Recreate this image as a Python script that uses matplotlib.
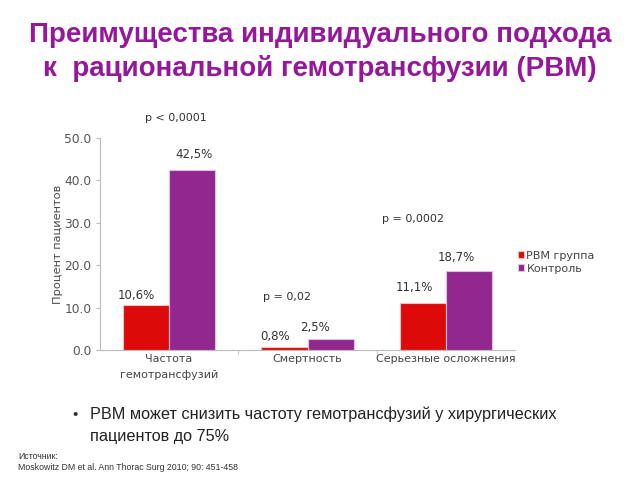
import matplotlib
matplotlib.use("Agg")
import matplotlib.pyplot as plt
import numpy as np

categories = ["Частота\nгемотрансфузий", "Смертность", "Серьезные осложнения"]
pbm_values = [10.6, 0.8, 11.1]
control_values = [42.5, 2.5, 18.7]
pbm_labels = ["10,6%", "0,8%", "11,1%"]
control_labels = ["42,5%", "2,5%", "18,7%"]
p_values = ["p < 0,0001", "p = 0,02", "p = 0,0002"]
series_names = ["PBM группа", "Контроль"]
yticks = [0, 10, 20, 30, 40, 50]

plt.rcParams['font.family'] = ['Liberation Sans', 'DejaVu Sans']
fig = plt.figure(figsize=(6.4, 4.8), dpi=100)
fig.patch.set_facecolor("white")

red = "#DD0A0A"
purple = "#92278F"
title_col = "#96189A"

ax = fig.add_axes([0.156, 0.271, 0.649, 0.4415])
x = np.arange(len(categories))
w = 1/3
ax.bar(x - w/2, pbm_values, w, color=red, edgecolor="#F5C0C0", linewidth=0.8, label=series_names[0])
ax.bar(x + w/2, control_values, w, color=purple, edgecolor="#E0C0E0", linewidth=0.8, label=series_names[1])

ax.set_xlim(-0.5, len(categories) - 0.5)
ax.set_ylim(0, 50)
ax.set_yticks(yticks)
ax.set_yticklabels([f"{v:.1f}" for v in yticks], fontsize=8.8, color="#555555", family=['DejaVu Sans'])
ax.set_xticks(x)
ax.set_xticklabels(categories, fontsize=8, color="#444444", family=['DejaVu Sans'], linespacing=1.75)
ax.set_xticks(np.arange(len(categories) - 1) + 0.5, minor=True)
ax.tick_params(axis='x', which='major', length=0, pad=3)
ax.tick_params(axis='x', which='minor', length=3, color="#BBBBBB")
ax.tick_params(axis='y', length=3, color="#BBBBBB", pad=3)
for s in ["top", "right"]:
    ax.spines[s].set_visible(False)
for s in ["left", "bottom"]:
    ax.spines[s].set_color("#BBBBBB")
ax.set_ylabel("Процент пациентов", fontsize=8.2, color="#4a4a4a", family=['DejaVu Sans'], labelpad=1)

lab_kw = dict(fontsize=8.5, color="#333333", family=['DejaVu Sans'], ha="center", va="bottom")
red_off = [(-7, 2), (-7, 2.5), (-6, 6.5)]
pur_off = [(1, 6), (-11, 4), (-9, 5)]
for i in range(len(categories)):
    ax.annotate(pbm_labels[i], (x[i] - w/2, pbm_values[i]), xytext=red_off[i], textcoords="offset points", **lab_kw)
    ax.annotate(control_labels[i], (x[i] + w/2, control_values[i]), xytext=pur_off[i], textcoords="offset points", **lab_kw)

p_pos = [(0.05, 54.7), (0.85, 12.5), (1.76, 30.9)]
for (px, py), t in zip(p_pos, p_values):
    ax.text(px, py, t, fontsize=8, color="#333333", family=['DejaVu Sans'], ha="center", va="center", clip_on=False)

leg = ax.legend(loc="upper left", bbox_to_anchor=(0.995, 0.49), frameon=False,
                handlelength=0.6, handleheight=0.6, handletextpad=0.2, labelspacing=0.3,
                borderaxespad=0, prop={'family': ['DejaVu Sans'], 'size': 8})
for t in leg.get_texts():
    t.set_color("#444444")

fig.text(0.5, 0.928, "Преимущества индивидуального подхода", fontsize=20, fontweight="bold",
         color=title_col, ha="center", va="center")
fig.text(0.5, 0.858, "к  рациональной гемотрансфузии (PBM)", fontsize=20, fontweight="bold",
         color=title_col, ha="center", va="center")

fig.text(0.118, 0.136, "•", fontsize=11, color="#333333", ha="center", va="center")
fig.text(0.141, 0.136, "PBM может снизить частоту гемотрансфузий у хирургических", fontsize=11.7, color="#222222", ha="left", va="center")
fig.text(0.141, 0.090, "пациентов до 75%", fontsize=11.7, color="#222222", ha="left", va="center")
fig.text(0.028, 0.049, "Источник:", fontsize=6.3, color="#333333", ha="left", va="center")
fig.text(0.028, 0.027, "Moskowitz DM et al. Ann Thorac Surg 2010; 90: 451-458", fontsize=6.3, color="#333333", ha="left", va="center")

fig.savefig("out.png", dpi=100)
